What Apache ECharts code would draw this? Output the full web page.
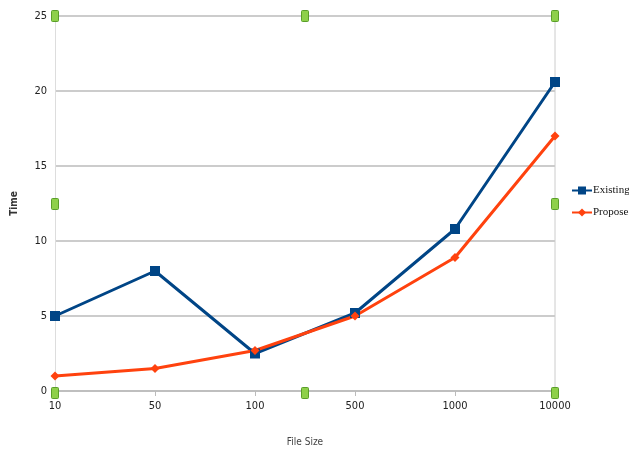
<!DOCTYPE html>
<html><head><meta charset="utf-8">
<script src="https://cdn.jsdelivr.net/npm/echarts@6/dist/echarts.min.js"></script>
<style>html,body{margin:0;padding:0;background:#fff}#c{width:629px;height:452px}</style>
</head><body><div id="c"></div>
<script>
const categories = ['10', '50', '100', '500', '1000', '10000'];
const existing = [5, 8, 2.5, 5.2, 10.8, 20.6];
const proposed = [1, 1.5, 2.7, 5, 8.9, 17];
const yTicks = [0, 5, 10, 15, 20, 25];

const chart = echarts.init(document.getElementById('c'));
const handlePositions = [[55,16],[305,16],[555,16],[55,204],[555,204],[55,393],[305,393],[555,393]];
const handles = handlePositions.map(p => ({
  type: 'rect', shape: {x: p[0]-3.5, y: p[1]-5.5, width: 7, height: 11, r: 1},
  style: {fill: '#8ed04a', stroke: '#5a9e2a', lineWidth: 1}, z: 100
}));
chart.setOption({
  animation: false,
  grid: {left: 55, right: 74, top: 16, bottom: 59},
  legend: {
    orient: 'vertical', left: 566, top: 180, itemGap: 11, itemWidth: 20, itemHeight: 10,
    textStyle: {fontFamily: 'Liberation Serif', fontSize: 11, color: '#111', padding: [0, 0, 0, -4]},
    data: ['Existing', 'Proposed']
  },
  xAxis: {
    type: 'category', data: categories, boundaryGap: false,
    name: 'File Size', nameLocation: 'middle', nameGap: 46,
    nameTextStyle: {fontFamily: 'DejaVu Sans Condensed', fontSize: 10, color: '#444'},
    axisLine: {lineStyle: {color: '#bbb', width: 1.5}},
    axisTick: {show: true, alignWithLabel: true, length: 5, lineStyle: {color: '#bbb'}},
    axisLabel: {fontFamily: 'DejaVu Sans Condensed', fontSize: 11, color: '#222', margin: 10},
    splitLine: {show: false}
  },
  yAxis: {
    type: 'value', min: 0, max: 25, interval: 5,
    name: 'Time', nameLocation: 'middle', nameGap: 36, nameRotate: 90,
    nameTextStyle: {fontFamily: 'DejaVu Sans Condensed', fontSize: 10, fontWeight: 'bold', color: '#333'},
    axisLine: {show: true, lineStyle: {color: '#ddd', width: 1}},
    axisTick: {show: false},
    axisLabel: {fontFamily: 'DejaVu Sans Condensed', fontSize: 11, color: '#222', margin: 8,
      formatter: v => yTicks.includes(v) ? String(v) : ''},
    splitLine: {lineStyle: {color: '#bbb', width: 1.5}}
  },
  graphic: [
    {type: 'line', shape: {x1: 555, y1: 16, x2: 555, y2: 393}, style: {stroke: '#ccc', lineWidth: 1}, z: 1}
  ].concat(handles),
  series: [
    {name: 'Existing', type: 'line', data: existing, symbol: 'rect', symbolSize: 10,
     itemStyle: {color: '#004586'}, lineStyle: {color: '#004586', width: 3}},
    {name: 'Proposed', type: 'line', data: proposed, symbol: 'diamond', symbolSize: 9,
     itemStyle: {color: '#ff420e'}, lineStyle: {color: '#ff420e', width: 3}}
  ]
});
</script></body></html>
